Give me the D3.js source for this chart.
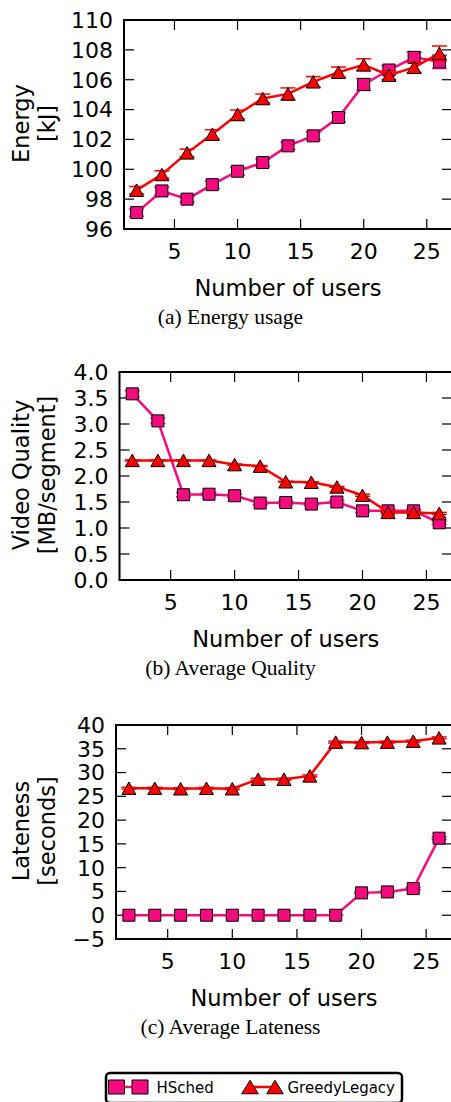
<!DOCTYPE html>
<html>
<head>
<meta charset="utf-8">
<style>
  body { margin: 0; background: #fff; }
  text { font-family: "DejaVu Sans", sans-serif; fill: #000; }
  .cap { font-family: "Liberation Serif", "Times New Roman", serif; }
</style>
</head>
<body>
<svg width="451" height="1102"></svg>
<script src="https://cdnjs.cloudflare.com/ajax/libs/d3/7.8.5/d3.min.js"></script>
<script>
// data
var users = [2, 4, 6, 8, 10, 12, 14, 16, 18, 20, 22, 24, 26];
var xTicks = [5, 10, 15, 20, 25];

var energyHSched    = [97.1, 98.55, 98.0, 98.97, 99.87, 100.45, 101.57, 102.24, 103.47, 105.68, 106.65, 107.5, 107.2];
var energyHSchedErr = [0.25, 0.25, 0.2, 0.25, 0.25, 0.25, 0.25, 0.25, 0.3, 0.4, 0.3, 0.35, 0.45];
var energyGreedy    = [98.6, 99.65, 101.1, 102.35, 103.67, 104.74, 105.05, 105.86, 106.5, 107.0, 106.3, 106.83, 107.76];
var energyGreedyErr = [0.25, 0.25, 0.25, 0.3, 0.3, 0.3, 0.4, 0.35, 0.35, 0.4, 0.3, 0.35, 0.5];
var energyTicks = [96, 98, 100, 102, 104, 106, 108, 110];

var qualityHSched    = [3.58, 3.06, 1.64, 1.65, 1.62, 1.48, 1.49, 1.46, 1.5, 1.33, 1.33, 1.33, 1.1];
var qualityHSchedErr = [0.06, 0.05, 0.04, 0.03, 0.03, 0.03, 0.03, 0.03, 0.03, 0.03, 0.03, 0.03, 0.03];
var qualityGreedy    = [2.3, 2.3, 2.3, 2.3, 2.22, 2.19, 1.89, 1.88, 1.79, 1.63, 1.3, 1.3, 1.28];
var qualityGreedyErr = [0.01, 0.01, 0.01, 0.01, 0.01, 0.01, 0.01, 0.01, 0.01, 0.02, 0.02, 0.02, 0.02];
var qualityTicks = [0, 0.5, 1, 1.5, 2, 2.5, 3, 3.5, 4];

var latenessHSched    = [0, 0, 0, 0, 0, 0, 0, 0, 0, 4.7, 4.9, 5.6, 16.2];
var latenessHSchedErr = [0.05, 0.05, 0.05, 0.05, 0.05, 0.05, 0.05, 0.05, 0.05, 0.2, 0.2, 0.25, 0.3];
var latenessGreedy    = [26.7, 26.7, 26.6, 26.7, 26.6, 28.6, 28.6, 29.3, 36.4, 36.3, 36.4, 36.6, 37.3];
var latenessGreedyErr = [0.2, 0.2, 0.2, 0.2, 0.2, 0.2, 0.2, 0.2, 0.2, 0.2, 0.2, 0.2, 0.2];
var latenessTicks = [-5, 0, 5, 10, 15, 20, 25, 30, 35, 40];

var seriesNames = ["HSched", "GreedyLegacy"];
var pink = "#f50a80", red = "#ff0000";

var svg = d3.select("svg");
svg.append("rect").attr("width", 451).attr("height", 1102).attr("fill", "#fff");

var panels = [
  { top: 20, bottom: 229, left: 124, dom: [96, 110], ticks: energyTicks, fmt: d3.format("d"),
    ylab: ["Energy", "[kJ]"], cap: "(a) Energy usage",
    hs: energyHSched, hsErr: energyHSchedErr, gr: energyGreedy, grErr: energyGreedyErr },
  { top: 372, bottom: 580, left: 119.5, dom: [0, 4], ticks: qualityTicks, fmt: d3.format(".1f"),
    ylab: ["Video Quality", "[MB/segment]"], cap: "(b) Average Quality",
    hs: qualityHSched, hsErr: qualityHSchedErr, gr: qualityGreedy, grErr: qualityGreedyErr },
  { top: 725, bottom: 939, left: 116, dom: [-5, 40], ticks: latenessTicks, fmt: d3.format("d"),
    ylab: ["Lateness", "[seconds]"], cap: "(c) Average Lateness",
    hs: latenessHSched, hsErr: latenessHSchedErr, gr: latenessGreedy, grErr: latenessGreedyErr }
];

var right = 452;

function triPath(w, h) {
  return "M0," + (-h / 2) + "L" + (w / 2) + "," + (h / 2) + "L" + (-w / 2) + "," + (h / 2) + "Z";
}

panels.forEach(function (p) {
  var x = d3.scaleLinear().domain([1, 27]).range([p.left, right]);
  var y = d3.scaleLinear().domain(p.dom).range([p.bottom, p.top]);
  var g = svg.append("g");

  // ticks (inward, all four sides)
  g.selectAll(".xtb").data(xTicks).enter().append("line")
    .attr("x1", x).attr("x2", x).attr("y1", p.bottom).attr("y2", p.bottom - 10)
    .attr("stroke", "#000").attr("stroke-width", 1.2);
  g.selectAll(".xtt").data(xTicks).enter().append("line")
    .attr("x1", x).attr("x2", x).attr("y1", p.top).attr("y2", p.top + 10)
    .attr("stroke", "#000").attr("stroke-width", 1.2);
  g.selectAll(".ytl").data(p.ticks).enter().append("line")
    .attr("x1", p.left).attr("x2", p.left + 10).attr("y1", y).attr("y2", y)
    .attr("stroke", "#000").attr("stroke-width", 1.2);
  g.selectAll(".ytr").data(p.ticks).enter().append("line")
    .attr("x1", right).attr("x2", right - 10).attr("y1", y).attr("y2", y)
    .attr("stroke", "#000").attr("stroke-width", 1.2);

  // tick labels
  g.selectAll(".xl").data(xTicks).enter().append("text")
    .attr("x", x).attr("y", p.bottom + 29.5)
    .attr("text-anchor", "middle").attr("font-size", 22)
    .text(function (d) { return d; });
  g.selectAll(".yl").data(p.ticks).enter().append("text")
    .attr("x", p.left - 11).attr("y", y).attr("dy", "0.36em")
    .attr("text-anchor", "end").attr("font-size", 22)
    .text(p.fmt);

  // axis labels
  g.append("text").attr("x", (p.left + right) / 2).attr("y", p.bottom + 66.5)
    .attr("text-anchor", "middle").attr("font-size", 22.5).text("Number of users");
  var cy = (p.top + p.bottom) / 2 - 1;
  g.append("text").attr("transform", "translate(29," + cy + ") rotate(-90)")
    .attr("text-anchor", "middle").attr("font-size", 22.5).text(p.ylab[0]);
  g.append("text").attr("transform", "translate(55," + cy + ") rotate(-90)")
    .attr("text-anchor", "middle").attr("font-size", 22.5).text(p.ylab[1]);

  // caption
  g.append("text").attr("class", "cap").attr("x", 230.5).attr("y", p.bottom + 95)
    .attr("text-anchor", "middle").attr("font-size", 21.5).text(p.cap);

  var plot = g.append("g");
  var line = d3.line().x(function (d, i) { return x(users[i]); }).y(function (d) { return y(d); });

  function drawSeries(vals, errs, color, marker) {
    plot.append("path").datum(vals).attr("d", line)
      .attr("fill", "none").attr("stroke", color).attr("stroke-width", 2.5);
    var eb = plot.append("g").attr("stroke", color).attr("stroke-width", 1.5);
    vals.forEach(function (v, i) {
      var cx = x(users[i]);
      eb.append("line").attr("x1", cx).attr("x2", cx).attr("y1", y(v - errs[i])).attr("y2", y(v + errs[i]));
      eb.append("line").attr("x1", cx - 7.5).attr("x2", cx + 7.5).attr("y1", y(v - errs[i])).attr("y2", y(v - errs[i]));
      eb.append("line").attr("x1", cx - 7.5).attr("x2", cx + 7.5).attr("y1", y(v + errs[i])).attr("y2", y(v + errs[i]));
    });
    plot.append("g").selectAll("path").data(vals).enter().append("path")
      .attr("transform", function (d, i) { return "translate(" + x(users[i]) + "," + y(d) + ")"; })
      .attr("d", marker === "square" ? "M-6,-6H6V6H-6Z" : triPath(14, 12.5))
      .attr("fill", color).attr("stroke", "#000").attr("stroke-width", 1);
  }
  drawSeries(p.hs, p.hsErr, pink, "square");
  drawSeries(p.gr, p.grErr, red, "triangle");

  // frame
  g.append("rect").attr("x", p.left).attr("y", p.top)
    .attr("width", right - p.left).attr("height", p.bottom - p.top)
    .attr("fill", "none").attr("stroke", "#000").attr("stroke-width", 2);
});

// legend
var lg = svg.append("g");
lg.append("rect").attr("x", 106).attr("y", 1073).attr("width", 296).attr("height", 30)
  .attr("rx", 4).attr("fill", "#fff").attr("stroke", "#000").attr("stroke-width", 2.5);
var legendItems = [
  { name: seriesNames[0], color: pink, marker: "square", x0: 116.5, x1: 140, tx: 156.5 },
  { name: seriesNames[1], color: red, marker: "triangle", x0: 250, x1: 275, tx: 287.5 }
];
legendItems.forEach(function (d) {
  var ly = 1087;
  lg.append("line").attr("x1", d.x0).attr("x2", d.x1).attr("y1", ly).attr("y2", ly)
    .attr("stroke", d.color).attr("stroke-width", 2.5);
  [d.x0, d.x1].forEach(function (mx) {
    lg.append("path").attr("transform", "translate(" + mx + "," + ly + ")")
      .attr("d", d.marker === "square" ? "M-8,-7H8V7H-8Z" : triPath(16.5, 13.5))
      .attr("fill", d.color).attr("stroke", "#000").attr("stroke-width", 1);
  });
  lg.append("text").attr("x", d.tx).attr("y", ly + 5.5).attr("font-size", 15).text(d.name);
});
</script>
</body>
</html>
